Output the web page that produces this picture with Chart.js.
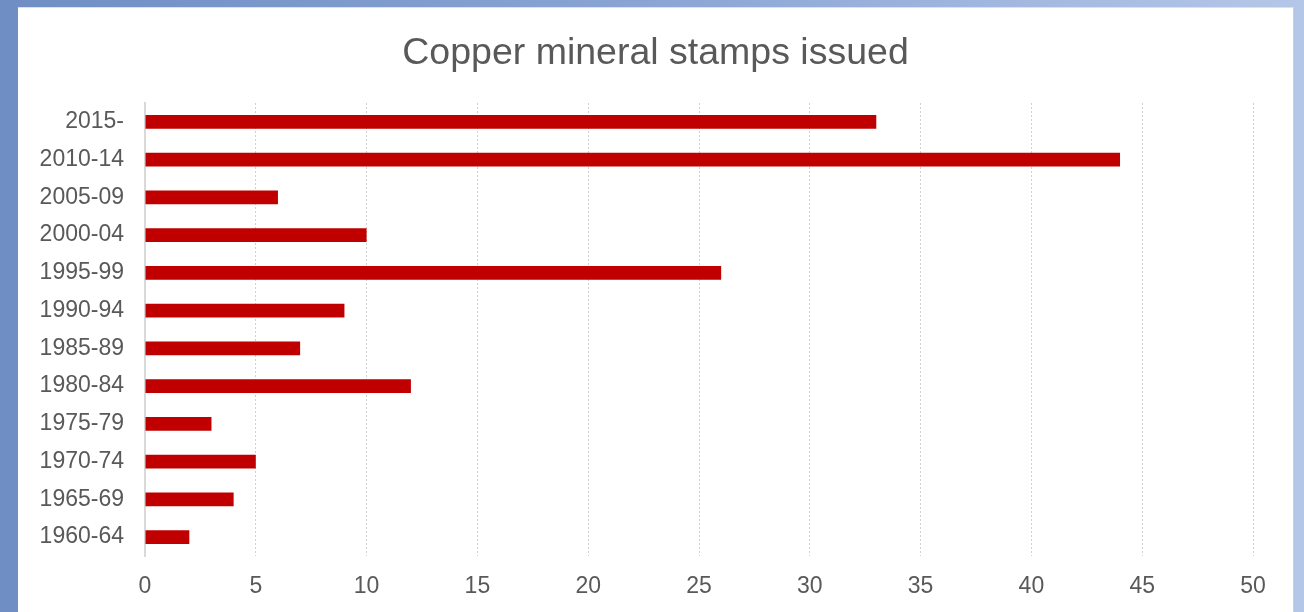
<!DOCTYPE html>
<html>
<head>
<meta charset="utf-8">
<script src="https://cdn.jsdelivr.net/npm/chart.js@4"></script>
<style>
  html, body { margin: 0; padding: 0; }
  body {
    width: 1304px; height: 612px; overflow: hidden; position: relative;
    background: linear-gradient(to right, #6f8ec4 0%, #8aa5d4 50%, #b5c7e8 100%);
  }
  #panel {
    position: absolute; left: 18px; top: 7px; width: 1276px; height: 605px;
    background: #fff; border-right: 1px solid #d0d0d0; border-top: 1px solid #e0e0e0;
    box-sizing: border-box;
  }
  #chart { display: block; }
</style>
</head>
<body>
<div id="panel"><canvas id="chart" width="1275" height="604"></canvas></div>
<script>
  // Períodos (de cima para baixo) e número de selos
  const periodos = ["2015-", "2010-14", "2005-09", "2000-04", "1995-99", "1990-94",
                    "1985-89", "1980-84", "1975-79", "1970-74", "1965-69", "1960-64"];
  const selos = [33, 44, 6, 10, 26, 9, 7, 12, 3, 5, 4, 2];
  const tituloGrafico = "Copper mineral stamps issued";

  const fonte = "'Liberation Sans', Arial, sans-serif";
  const cinza = "#595959";

  new Chart(document.getElementById("chart"), {
    type: "bar",
    data: {
      labels: periodos,
      datasets: [{
        data: selos,
        backgroundColor: "#c00000",
        borderWidth: 0,
        barPercentage: 0.37,
        categoryPercentage: 1
      }]
    },
    options: {
      indexAxis: "y",
      responsive: false,
      animation: false,
      layout: { padding: 0 },
      scales: {
        x: {
          min: 0, max: 50,
          ticks: { stepSize: 5, color: cinza, font: { family: fonte, size: 23 }, padding: 17 },
          grid: { color: "#d0d0d0", drawTicks: false },
          border: { display: false, dash: [2, 2] },
          afterFit: s => { s.height = 56; }
        },
        y: {
          ticks: { color: cinza, font: { family: fonte, size: 23 }, padding: 21 },
          grid: { display: false, drawTicks: false },
          border: { display: true, color: "#d9d9d9", width: 2 },
          afterFit: s => { s.width = 127; }
        },
        // eixo vazio só para reservar a margem direita
        margem: {
          axis: "y", position: "right", display: true,
          ticks: { display: false },
          grid: { display: false, drawTicks: false },
          border: { display: false },
          afterFit: s => { s.width = 40; }
        }
      },
      plugins: {
        legend: { display: false },
        tooltip: { enabled: false },
        title: {
          display: true,
          text: tituloGrafico,
          color: cinza,
          font: { family: fonte, size: 37.5, weight: "normal" },
          padding: { top: 23, bottom: 27 }
        }
      }
    }
  });
</script>
</body>
</html>
